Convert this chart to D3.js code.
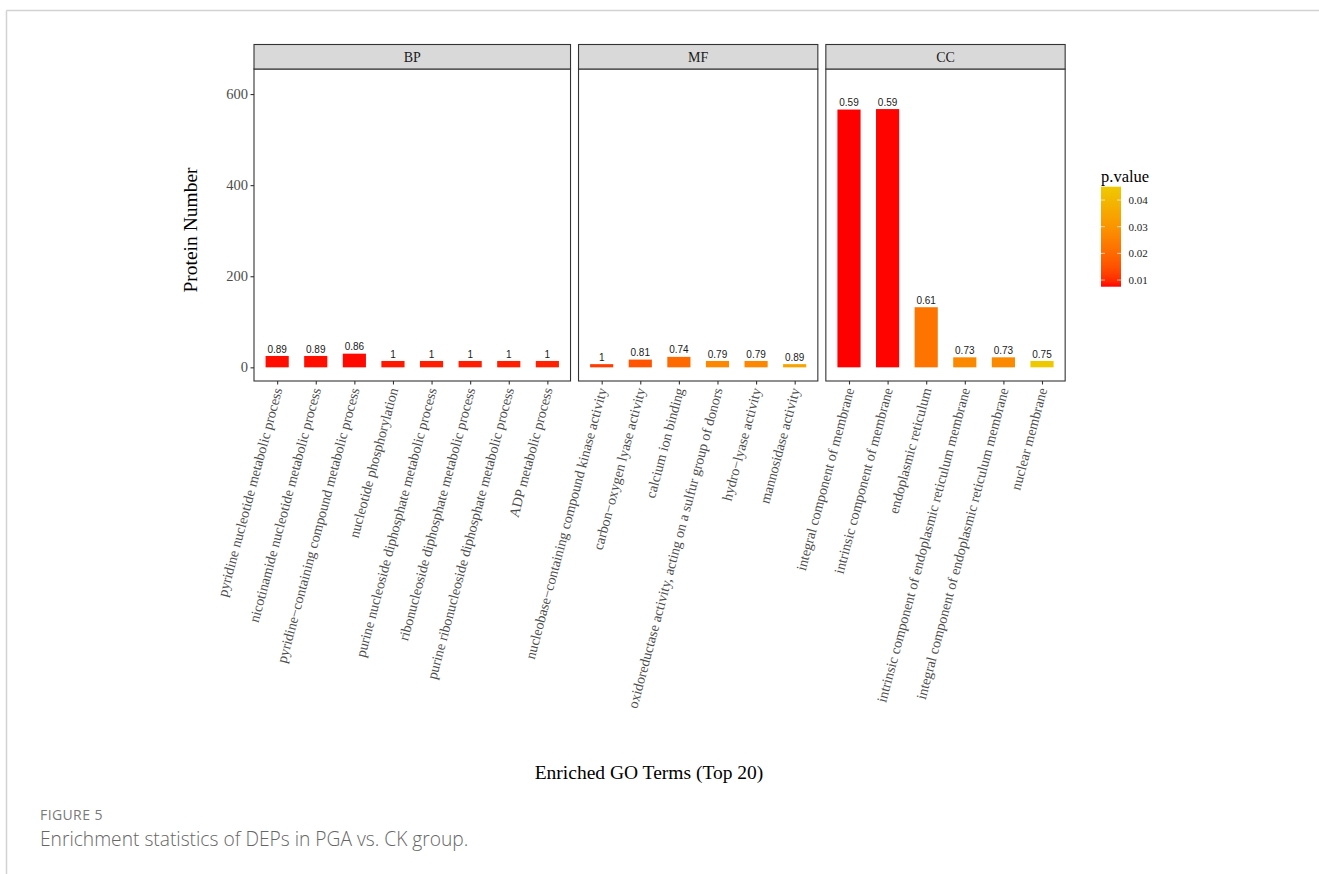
<!DOCTYPE html>
<html>
<head>
<meta charset="utf-8">
<script src="https://cdn.jsdelivr.net/npm/d3@7"></script>
<style>
  body { margin: 0; background: #fff; }
  svg { display: block; }
</style>
</head>
<body>
<svg id="chart" width="1319" height="874"></svg>
<script>
// GO enrichment: terms, protein counts, rich-factor labels and p-values per ontology
const facetNames = ["BP", "MF", "CC"];

const bpTerms = [
  "pyridine nucleotide metabolic process",
  "nicotinamide nucleotide metabolic process",
  "pyridine\u2212containing compound metabolic process",
  "nucleotide phosphorylation",
  "purine nucleoside diphosphate metabolic process",
  "ribonucleoside diphosphate metabolic process",
  "purine ribonucleoside diphosphate metabolic process",
  "ADP metabolic process"
];
const bpCounts = [25, 25, 30, 14, 14, 14, 14, 14];
const bpRatios = [0.89, 0.89, 0.86, 1, 1, 1, 1, 1];
const bpPvalues = [0.0079, 0.0080, 0.0078, 0.0085, 0.0088, 0.0088, 0.0088, 0.0090];

const mfTerms = [
  "nucleobase\u2212containing compound kinase activity",
  "carbon\u2212oxygen lyase activity",
  "calcium ion binding",
  "oxidoreductase activity, acting on a sulfur group of donors",
  "hydro\u2212lyase activity",
  "mannosidase activity"
];
const mfCounts = [7, 17, 23, 14, 14, 7];
const mfRatios = [1, 0.81, 0.74, 0.79, 0.79, 0.89];
const mfPvalues = [0.0120, 0.0155, 0.0200, 0.0270, 0.0270, 0.0345];

const ccTerms = [
  "integral component of membrane",
  "intrinsic component of membrane",
  "endoplasmic reticulum",
  "intrinsic component of endoplasmic reticulum membrane",
  "integral component of endoplasmic reticulum membrane",
  "nuclear membrane"
];
const ccCounts = [566, 567, 132, 22, 22, 14];
const ccRatios = [0.59, 0.59, 0.61, 0.73, 0.73, 0.75];
const ccPvalues = [0.0075, 0.0076, 0.0225, 0.0272, 0.0274, 0.0450];

const yTicks = [0, 200, 400, 600];
const legendTicks = [0.01, 0.02, 0.03, 0.04];

const facets = [
  { name: facetNames[0], terms: bpTerms, counts: bpCounts, ratios: bpRatios, p: bpPvalues },
  { name: facetNames[1], terms: mfTerms, counts: mfCounts, ratios: mfRatios, p: mfPvalues },
  { name: facetNames[2], terms: ccTerms, counts: ccCounts, ratios: ccRatios, p: ccPvalues }
];

const SERIF = "'Liberation Serif', 'Times New Roman', serif";
const SANS = "'Liberation Sans', Arial, sans-serif";

const svg = d3.select("#chart");

// page card frame
svg.append("line").attr("x1", 6.5).attr("x2", 1319).attr("y1", 10.5).attr("y2", 10.5)
  .attr("stroke", "#d2d2d2").attr("stroke-width", 1.5);
svg.append("line").attr("x1", 6.5).attr("x2", 6.5).attr("y1", 10.5).attr("y2", 874)
  .attr("stroke", "#d2d2d2").attr("stroke-width", 1.5);

// layout
const stripTop = 44.5, stripH = 24.5;
const panelTop = stripTop + stripH, panelBottom = 381;
const unit = 38.6, gap = 8, firstLeft = 254;

const y = d3.scaleLinear().domain([-30, 655]).range([panelBottom, panelTop]);

const allP = facets.flatMap(f => f.p);
const pExtent = d3.extent(allP);
const color = d3.scaleLinear().domain(pExtent).range(["#FF0000", "#EEC900"])
  .interpolate(d3.interpolateLab);

let left = firstLeft;
facets.forEach((f, fi) => {
  const width = (f.terms.length - 1 + 1.2) * unit;
  const x = d3.scalePoint().domain(f.terms).range([left, left + width]).padding(0.6);
  const bw = x.step() * 0.6;
  const g = svg.append("g");

  // panel background
  g.append("rect").attr("x", left).attr("y", panelTop).attr("width", width)
    .attr("height", panelBottom - panelTop).attr("fill", "#fff");

  // bars
  const rows = f.terms.map((t, i) => ({ term: t, count: f.counts[i], ratio: f.ratios[i], p: f.p[i] }));
  g.selectAll("rect.bar").data(rows).join("rect").attr("class", "bar")
    .attr("x", d => x(d.term) - bw / 2)
    .attr("y", d => y(d.count))
    .attr("width", bw)
    .attr("height", d => y(0) - y(d.count))
    .attr("fill", d => color(d.p));

  // bar labels
  g.selectAll("text.lab").data(rows).join("text").attr("class", "lab")
    .attr("x", d => x(d.term))
    .attr("y", d => y(d.count) - 3.4)
    .attr("text-anchor", "middle")
    .attr("font-family", SANS).attr("font-size", "10px").attr("fill", "#1a1a1a")
    .text(d => String(d.ratio));

  // panel border
  g.append("rect").attr("x", left).attr("y", panelTop).attr("width", width)
    .attr("height", panelBottom - panelTop).attr("fill", "none")
    .attr("stroke", "#333").attr("stroke-width", 1.1);

  // strip
  g.append("rect").attr("x", left).attr("y", stripTop).attr("width", width).attr("height", stripH)
    .attr("fill", "#D9D9D9").attr("stroke", "#333").attr("stroke-width", 1.1);
  g.append("text").attr("x", left + width / 2).attr("y", stripTop + stripH / 2 + 5)
    .attr("text-anchor", "middle").attr("font-family", SERIF).attr("font-size", "14px")
    .attr("fill", "#1a1a1a").text(f.name);

  // x axis
  const xa = g.append("g").attr("transform", `translate(0,${panelBottom})`)
    .call(d3.axisBottom(x).tickSize(3.5).tickPadding(0));
  xa.select(".domain").remove();
  xa.selectAll(".tick line").attr("stroke", "#333").attr("stroke-width", 1.1);
  xa.selectAll(".tick text")
    .attr("font-family", SERIF).attr("font-size", "14.2px").attr("fill", "#4D4D4D")
    .attr("text-anchor", "end")
    .attr("x", 0).attr("y", 0).attr("dy", "0.35em")
    .attr("transform", "translate(0,7) rotate(-75)");

  // y axis on first panel only
  if (fi === 0) {
    const ya = g.append("g").attr("transform", `translate(${left},0)`)
      .call(d3.axisLeft(y).tickValues(yTicks).tickSize(3.5).tickPadding(2.5));
    ya.select(".domain").remove();
    ya.selectAll(".tick line").attr("stroke", "#333").attr("stroke-width", 1.1);
    ya.selectAll(".tick text").attr("font-family", SERIF).attr("font-size", "14.5px")
      .attr("fill", "#4D4D4D");
  }
  left += width + gap;
});

// axis titles
svg.append("text").attr("transform", `translate(197,230) rotate(-90)`)
  .attr("text-anchor", "middle").attr("font-family", SERIF).attr("font-size", "19.5px")
  .attr("fill", "#000").text("Protein Number");
svg.append("text").attr("x", 649).attr("y", 779)
  .attr("text-anchor", "middle").attr("font-family", SERIF).attr("font-size", "19.5px")
  .attr("fill", "#000").text("Enriched GO Terms (Top 20)");

// colour bar legend
const lgX = 1101, lgW = 20, lgTop = 186.7, lgBottom = 286.7;
const ly = d3.scaleLinear().domain(pExtent).range([lgBottom, lgTop]);
const defs = svg.append("defs");
const grad = defs.append("linearGradient").attr("id", "pgrad")
  .attr("x1", 0).attr("y1", 1).attr("x2", 0).attr("y2", 0);
d3.range(0, 1.0001, 0.05).forEach(t => {
  grad.append("stop").attr("offset", t)
    .attr("stop-color", color(pExtent[0] + t * (pExtent[1] - pExtent[0])));
});
svg.append("text").attr("x", lgX).attr("y", 181.5).attr("font-family", SERIF)
  .attr("font-size", "16.5px").attr("fill", "#000").text("p.value");
svg.append("rect").attr("x", lgX).attr("y", lgTop).attr("width", lgW)
  .attr("height", lgBottom - lgTop).attr("fill", "url(#pgrad)");
legendTicks.forEach(v => {
  const yy = ly(v);
  svg.append("line").attr("x1", lgX).attr("x2", lgX + 4).attr("y1", yy).attr("y2", yy)
    .attr("stroke", "#fff").attr("stroke-opacity", 0.6).attr("stroke-width", 1);
  svg.append("line").attr("x1", lgX + lgW - 4).attr("x2", lgX + lgW).attr("y1", yy).attr("y2", yy)
    .attr("stroke", "#fff").attr("stroke-opacity", 0.6).attr("stroke-width", 1);
  svg.append("text").attr("x", lgX + lgW + 7.5).attr("y", yy).attr("dy", "0.35em")
    .attr("font-family", SERIF).attr("font-size", "11px").attr("fill", "#1a1a1a")
    .text(d3.format(".2f")(v));
});

// figure caption
svg.append("text").attr("x", 40).attr("y", 820).attr("font-family", "'Open Sans', sans-serif")
  .attr("font-size", "14px").attr("letter-spacing", "0.4px").attr("fill", "#7a7a7a")
  .text("FIGURE 5");
svg.append("text").attr("x", 40).attr("y", 846).attr("font-family", "'Open Sans', sans-serif")
  .attr("font-size", "19.2px").attr("font-weight", 300).attr("fill", "#666")
  .text("Enrichment statistics of DEPs in PGA vs. CK group.");
</script>
</body>
</html>
